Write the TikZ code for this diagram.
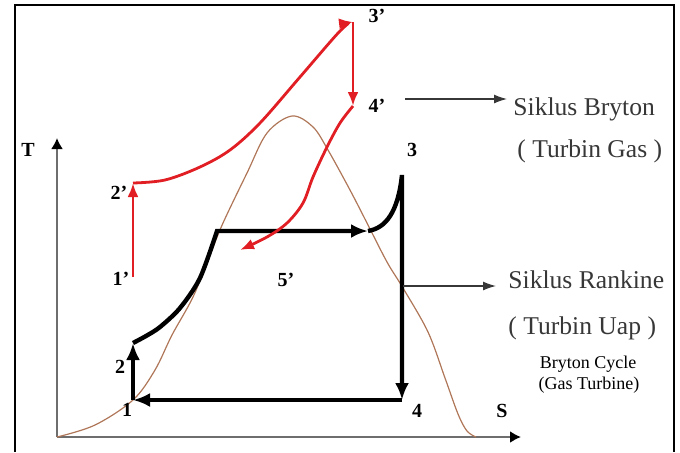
\documentclass[tikz,border=0pt]{standalone}
\usepackage{fontspec}
\setmainfont{Liberation Serif}
\usepackage{tikz}
\usetikzlibrary{arrows.meta,positioning,calc}
\definecolor{cycleRed}{RGB}{225,30,35}
\definecolor{domeBrown}{RGB}{175,118,88}
\definecolor{axisGray}{RGB}{110,110,110}
\definecolor{noteGray}{RGB}{55,55,55}
\tikzset{
  >=Latex,
  pt label/.style={font=\fontsize{10}{12}\selectfont\bfseries, inner sep=0pt},
  note text/.style={font=\fontsize{12.8}{15}\selectfont, text=noteGray, inner sep=0pt},
  small note/.style={font=\fontsize{9}{11}\selectfont, inner sep=0pt},
  note arrow/.style={-{Latex[length=6.5pt,width=4.5pt]}, line width=0.6pt, noteGray}
}

\begin{document}
\begin{tikzpicture}[x=0.5pt, y=-0.5pt,
    % styles for the T-s figure
    axis line/.style={-{Latex[length=5.5pt,width=6pt,color=black]}, line width=1pt, axisGray},
    dome/.style={line width=0.6pt, domeBrown},
    rankine/.style={line width=2.2pt, black, line join=miter},
    rankine arrow/.style={rankine, -{Latex[length=8.5pt,width=7pt]}},
    brayton/.style={line width=1.4pt, cycleRed},
    brayton arrow/.style={brayton, -{Latex[length=7pt,width=5.5pt]}}
]
\useasboundingbox (0,0) rectangle (680,452);

% --- Frame ---
\draw[line width=1.4pt] (15,452) -- (15,5) -- (674,5) -- (674,452);

% --- Axes ---
\coordinate (O) at (57,437);
\coordinate (Ttip) at (57,138);
\coordinate (Stip) at (521,437);
\draw[axis line] (O) -- (Ttip);
\draw[axis line] (O) -- (Stip);
\node[pt label] (Tlbl) at (28,150) {T};
\node[pt label] (Slbl) at (502,411) {S};

% --- Saturation dome ---
\draw[dome] plot[smooth, tension=0.55] coordinates {
    (O) (95,425) (133,400) (155,370) (172,335) (193,297) (210,255)
    (223,223) (247,173) (267,133) (292,116) (313,127) (328,150)
    (350,190) (367,223) (387,262) (403,288) (428,332) (445,378)
    (458,414) (467,431) (476,437)};

% --- Rankine cycle (steam turbine) ---
\coordinate (R1) at (133,400);
\coordinate (R2) at (133,343);
\coordinate (Rk) at (217,231);
\coordinate (Rs) at (368,231);
\coordinate (R3) at (402,175);
\coordinate (R4) at (402,400);

\draw[rankine arrow] (R1) -- (R2);
\draw[rankine arrow] plot[smooth, tension=0.5] coordinates {
    (R2) (146,336) (160,327) (180,308) (200,278) (Rk)} -- (Rs);
\draw[rankine arrow] (Rs) .. controls (386,228) and (398,212) .. (R3) -- (R4);
\draw[rankine arrow] (R4) -- (R1);

\node[pt label] (lbl1) at (127,410) {1};
\node[pt label] (lbl2) at (120,367) {2};
\node[pt label] (lbl3) at (412,150) {3};
\node[pt label] (lbl4) at (417,411) {4};
\node[pt label] (lbl5) at (286,280) {5’};

% --- Brayton cycle (gas turbine) ---
\coordinate (B1) at (133,277);
\coordinate (B2) at (133,183);
\coordinate (B3) at (353,22);
\coordinate (B4) at (353,106);
\coordinate (B5) at (240,250);

\draw[brayton arrow] (B1) -- (B2);
\draw[brayton arrow] plot[smooth, tension=0.55] coordinates {
    (B2) (165,180) (200,167) (230,150) (260,123) (300,77) (340,31) (B3)};
\draw[brayton arrow] (B3) -- (B4);
\draw[brayton arrow] plot[smooth, tension=0.55] coordinates {
    (B4) (340,123) (327,147) (313,177) (303,203) (287,223) (267,237) (B5)};

\node[pt label] (lbl1p) at (121,279) {1’};
\node[pt label] (lbl2p) at (119,193) {2’};
\node[pt label] (lbl3p) at (377,16) {3’};
\node[pt label] (lbl4p) at (377,106) {4’};

% --- Notes ---
\coordinate (brytonFrom) at (405,99);
\node[note text, anchor=base west] (bryton) at (513,115) {Siklus Bryton};
\node[note text, anchor=base west] (brytonSub) at (517,157) {( Turbin Gas )};
\draw[note arrow] (brytonFrom) -- ([xshift=-3pt]bryton.west |- brytonFrom);

\coordinate (rankineFrom) at (403,286);
\node[note text, anchor=base west] (rankine) at (508,288) {Siklus Rankine};
\node[note text, anchor=base west] (rankineSub) at (508,334) {( Turbin Uap )};
\draw[note arrow] (rankineFrom) -- ([xshift=-6pt]rankine.west |- rankineFrom);

\node[small note, anchor=base] (cycleName) at (588,368) {Bryton Cycle};
\node[small note, anchor=base] (cycleSub) at (589,389) {(Gas Turbine)};

\end{tikzpicture}
\end{document}
